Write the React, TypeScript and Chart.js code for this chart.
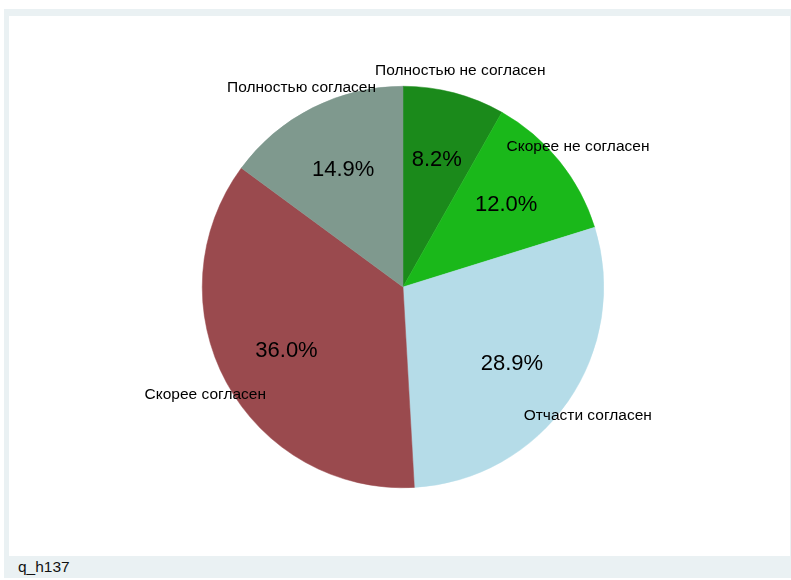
import React, { useEffect, useRef } from "react";
import { Chart, registerables } from "chart.js";

Chart.register(...registerables);

const categories = [
  "Полностью не согласен",
  "Скорее не согласен",
  "Отчасти согласен",
  "Скорее согласен",
  "Полностью согласен",
];
const shares = [8.2, 12.0, 28.9, 36.0, 14.9];
const sliceColors = ["#1b8a1b", "#1ab81a", "#b5dce8", "#9a4a4e", "#7f998e"];
const caption = "q_h137";

const FONT = "'Liberation Sans', Arial, Helvetica, sans-serif";

const labelPlugin = {
  id: "sliceLabels",
  afterDatasetsDraw(chart: any) {
    const ctx = chart.ctx;
    const meta = chart.getDatasetMeta(0);
    const data = chart.data.datasets[0].data as number[];
    const labels = chart.data.labels as string[];
    ctx.save();
    ctx.fillStyle = "#000";
    ctx.textAlign = "center";
    ctx.textBaseline = "middle";
    meta.data.forEach((arc: any, i: number) => {
      const { x, y, startAngle, endAngle, outerRadius } = arc.getProps(
        ["x", "y", "startAngle", "endAngle", "outerRadius"],
        true
      );
      const mid = (startAngle + endAngle) / 2;
      const pr = outerRadius * 0.66;
      ctx.font = `22px ${FONT}`;
      ctx.fillText(
        data[i].toFixed(1) + "%",
        x + Math.cos(mid) * pr,
        y + Math.sin(mid) * pr + 1
      );
      const nr = outerRadius * 1.12;
      ctx.font = `15.5px ${FONT}`;
      ctx.fillText(
        labels[i],
        x + Math.cos(mid) * nr,
        y + Math.sin(mid) * nr + 1
      );
    });
    ctx.restore();
  },
};

export default function App() {
  const ref = useRef<HTMLCanvasElement | null>(null);
  useEffect(() => {
    if (!ref.current) return;
    const chart = new Chart(ref.current, {
      type: "pie",
      data: {
        labels: categories,
        datasets: [
          {
            data: shares,
            backgroundColor: sliceColors,
            borderColor: sliceColors,
            borderWidth: 0.5,
          },
        ],
      },
      options: {
        animation: false,
        responsive: false,
        events: [],
        layout: { padding: { top: 86, bottom: 92, left: 15, right: 0 } },
        plugins: {
          legend: { display: false },
          tooltip: { enabled: false },
          title: { display: false },
        },
      },
      plugins: [labelPlugin],
    });
    return () => chart.destroy();
  }, []);

  return (
    <div
      style={{
        position: "fixed",
        left: 0,
        top: 0,
        width: 791,
        height: 580,
        background: "#fff",
        overflow: "hidden",
      }}
    >
      <div
        style={{
          position: "absolute",
          left: 4,
          top: 9,
          width: 787,
          height: 569,
          background: "#eaf1f3",
        }}
      />
      <div
        style={{
          position: "absolute",
          left: 9,
          top: 16,
          width: 781,
          height: 540,
          background: "#fff",
        }}
      />
      <div
        style={{
          position: "absolute",
          left: 18,
          top: 558,
          fontFamily: FONT,
          fontSize: 15.5,
          lineHeight: "18px",
          color: "#111",
        }}
      >
        {caption}
      </div>
      <canvas
        ref={ref}
        width={791}
        height={580}
        style={{ position: "absolute", left: 0, top: 0, width: 791, height: 580 }}
      />
    </div>
  );
}
